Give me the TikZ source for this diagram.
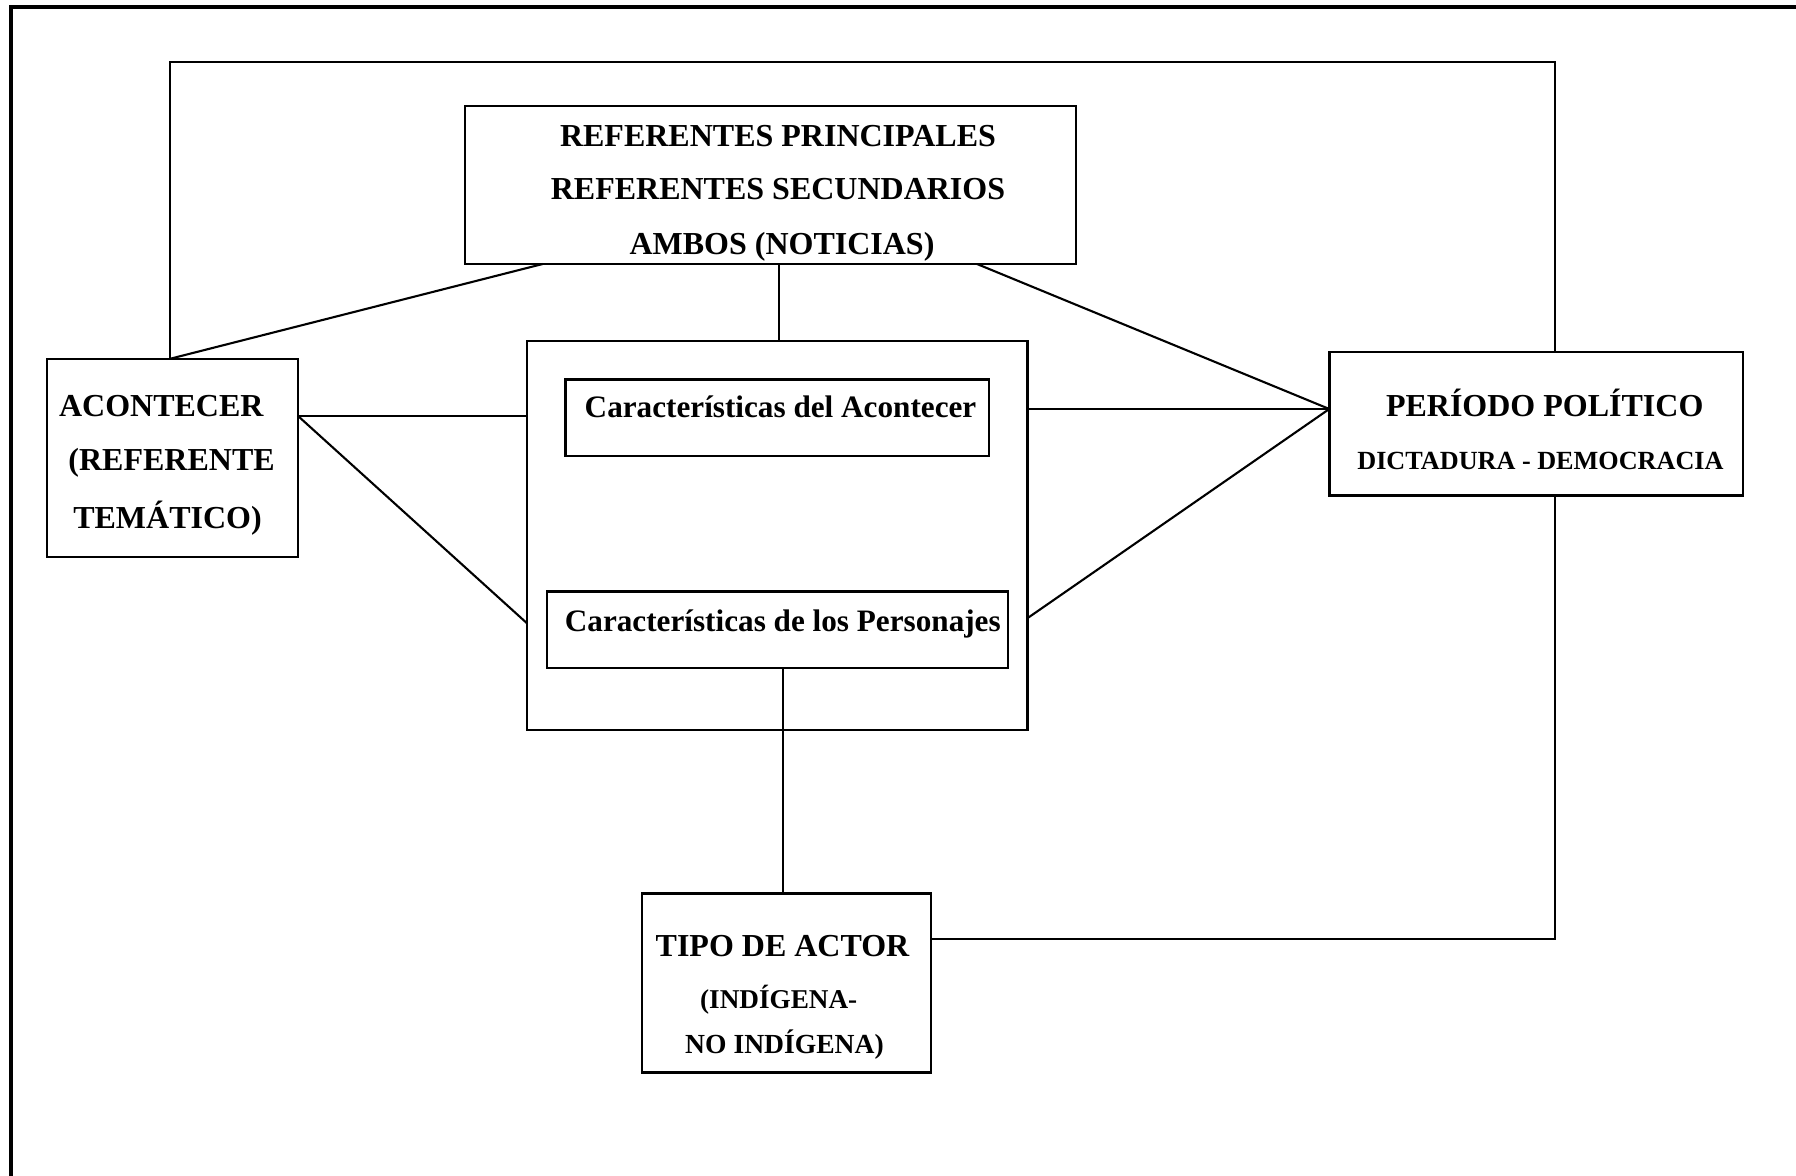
\documentclass[tikz,border=0pt]{standalone}
\usepackage{fontspec}
\setmainfont{Liberation Serif}
\usetikzlibrary{calc}
\begin{document}
\begin{tikzpicture}[x=0.5pt,y=-0.5pt,
  bx/.style={draw=black,line width=1.2pt,fill=none,inner sep=0pt,outer sep=0pt},
  lbl/.style={inner sep=0pt,outer sep=0pt,anchor=base,font=\bfseries},
  con/.style={draw=black,line width=1.05pt,line join=miter},
  frm/.style={draw=black,line width=2pt}]
\useasboundingbox (0,0) rectangle (1796,1176);
% outer frame (left and top only)
\coordinate (fBL) at (11,1176);
\coordinate (fTL) at (11,7);
\coordinate (fTR) at (1796,7);
\draw[frm] (fBL) -- (fTL) -- (fTR);

% boxes
\node[bx,minimum width=305.5pt,minimum height=79pt] (ref) at (770.5,185) {};
\node[bx,minimum width=125.5pt,minimum height=99.2pt] (acont) at (172.2,458) {};
\node[bx,minimum width=250.3pt,minimum height=194.5pt] (big) at (777,535.5) {};
\node[bx,minimum width=211.7pt,minimum height=38.3pt] (in1) at (777.3,417.7) {};
\node[bx,minimum width=230.5pt,minimum height=38.3pt] (in2) at (777.2,630) {};
\node[bx,minimum width=206.7pt,minimum height=71.7pt] (per) at (1536,424) {};
\node[bx,minimum width=144.5pt,minimum height=89.5pt] (tipo) at (786.2,982.8) {};

% texts
\node[lbl,font=\bfseries\fontsize{16pt}{16pt}\selectfont] (r1) at (778,146.7) {REFERENTES PRINCIPALES};
\node[lbl,font=\bfseries\fontsize{16pt}{16pt}\selectfont] (r2) at (778,200) {REFERENTES SECUNDARIOS};
\node[lbl,font=\bfseries\fontsize{16pt}{16pt}\selectfont] (r3) at (782,255) {AMBOS (NOTICIAS)};

\node[lbl,font=\bfseries\fontsize{16pt}{16pt}\selectfont] (a1) at (161.3,416.7) {ACONTECER};
\node[lbl,font=\bfseries\fontsize{16pt}{16pt}\selectfont] (a2) at (171.6,470.5) {(REFERENTE};
\node[lbl,font=\bfseries\fontsize{16pt}{16pt}\selectfont] (a3) at (167.5,528.3) {TEMÁTICO)};

\node[lbl,font=\bfseries\fontsize{15.6pt}{16pt}\selectfont] (c1) at (780.5,417.3) {Características del Acontecer};
\node[lbl,font=\bfseries\fontsize{15.6pt}{16pt}\selectfont] (c2) at (782.8,631.7) {Características de los Personajes};

\node[lbl,font=\bfseries\fontsize{16pt}{16pt}\selectfont] (p1) at (1544.7,416.7) {PERÍODO POLÍTICO};
\node[lbl,font=\bfseries\fontsize{13.1pt}{14pt}\selectfont] (p2) at (1540.5,470) {DICTADURA - DEMOCRACIA};

\node[lbl,font=\bfseries\fontsize{16pt}{16pt}\selectfont] (t1) at (782.5,956.7) {TIPO DE ACTOR};
\node[lbl,font=\bfseries\fontsize{13.6pt}{14pt}\selectfont] (t2) at (778.7,1008) {(INDÍGENA-};
\node[lbl,font=\bfseries\fontsize{13.8pt}{14pt}\selectfont] (t3) at (784.5,1053) {NO INDÍGENA)};

% connector points on the boxes
\coordinate (acTop) at ($(acont.north west)+(123.3,0)$);
\coordinate (perTop) at ($(per.north west)+(226,0)$);
\coordinate (topY) at (0,62);
\coordinate (topL) at (acTop |- topY);
\coordinate (topR) at (perTop |- topY);
\coordinate (refL) at ($(ref.south west)+(77.7,0)$);
\coordinate (refM) at ($(ref.south west)+(314.3,0)$);
\coordinate (refR) at ($(ref.south west)+(512,0)$);
\coordinate (perL) at ($(per.west)+(0,-15)$);
\coordinate (acR) at ($(acont.east)+(0,-42.3)$);
\coordinate (bigLL) at ($(big.west)+(0,87.5)$);
\coordinate (bigRU) at ($(big.east)+(0,-126.5)$);
\coordinate (bigRL) at ($(big.east)+(0,82.8)$);
\coordinate (in2B) at ($(in2.south)+(6.1,0)$);
\coordinate (tipoR) at ($(tipo.east)+(0,-43.8)$);
\coordinate (perB) at ($(per.south)+(19.3,0)$);

% connectors
\draw[con] (acTop) -- (topL) -- (topR) -- (perTop);
\draw[con] (refL) -- (acTop);
\draw[con] (refM) -- (refM |- big.north);
\draw[con] (refR) -- (perL);
\draw[con] (acR) -- (acR -| big.west);
\draw[con] (acR) -- (bigLL);
\draw[con] (bigRU) -- (perL);
\draw[con] (bigRL) -- (perL);
\draw[con] (in2B) -- (in2B |- tipo.north);
\draw[con] (tipoR) -| (perB);
\end{tikzpicture}
\end{document}
